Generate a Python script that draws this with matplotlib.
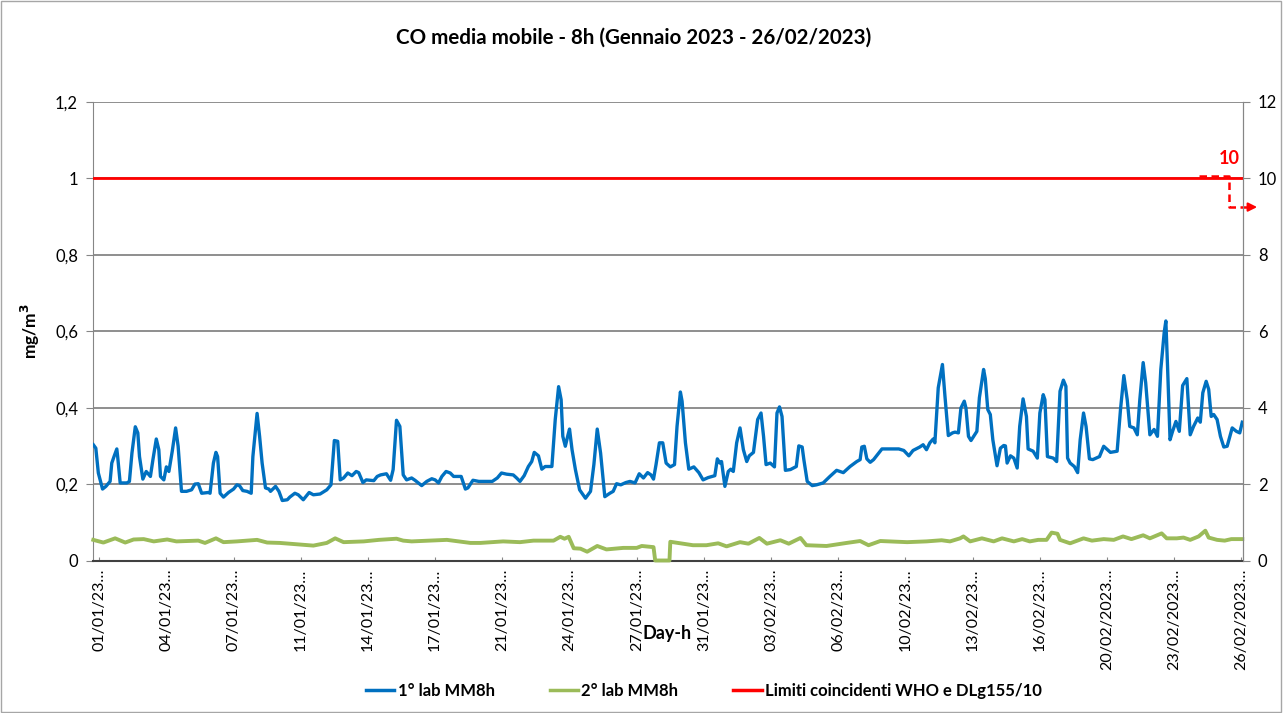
import matplotlib.pyplot as plt
from matplotlib.lines import Line2D
from matplotlib.patches import Rectangle

plt.rcParams['font.family'] = ['Lato', 'DejaVu Sans']

# ore dall'inizio (01/01 00h) e valori mg/m3
blue_h = [-7, -4, -1, 4, 8, 13, 15, 18, 21, 22, 25, 33, 36, 39, 43, 46, 48, 52, 56, 61,
          64, 68, 71, 73, 77, 80, 83, 87, 91, 94, 98, 104, 110, 114, 118, 122, 130, 132, 136, 139,
          141, 144, 148, 154, 160, 164, 167, 171, 176, 181, 183, 188, 191, 194, 198, 202, 204, 210, 214, 218,
          224, 227, 233, 237, 243, 250, 255, 263, 271, 276, 280, 284, 287, 291, 296, 301, 306, 309, 314, 318,
          327, 331, 335, 342, 347, 350, 354, 358, 362, 366, 372, 376, 384, 390, 396, 400, 404, 408, 413, 418,
          422, 431, 436, 439, 445, 452, 468, 474, 479, 485, 493, 497, 501, 506, 511, 515, 518, 523, 527, 531,
          539, 543, 547, 550, 552, 555, 558, 560, 563, 567, 572, 579, 585, 589, 593, 597, 602, 608, 612, 616,
          621, 627, 632, 638, 643, 648, 653, 657, 660, 663, 667, 671, 675, 680, 685, 688, 692, 694, 698, 702,
          708, 714, 719, 725, 733, 736, 739, 741, 745, 749, 752, 755, 759, 763, 767, 771, 774, 779, 784, 788,
          791, 794, 799, 804, 807, 810, 813, 817, 823, 830, 833, 837, 839, 843, 849, 854, 862, 870, 878, 886,
          894, 902, 906, 908, 911, 914, 918, 922, 928, 932, 942, 952, 958, 964, 969, 977, 981, 985, 989, 993,
          995, 999, 1004, 1007, 1011, 1016, 1019, 1023, 1026, 1030, 1032, 1035, 1038, 1045, 1048, 1053, 1055, 1058, 1061, 1064,
          1069, 1073, 1077, 1079, 1081, 1085, 1089, 1093, 1096, 1100, 1104, 1106, 1112, 1117, 1120, 1124, 1126, 1129, 1136, 1140,
          1144, 1148, 1151, 1153, 1156, 1161, 1165, 1168, 1172, 1175, 1179, 1183, 1187, 1191, 1196, 1204, 1212, 1216, 1220, 1224,
          1227, 1232, 1236, 1239, 1243, 1246, 1251, 1256, 1260, 1264, 1268, 1270, 1272, 1275, 1278, 1282, 1286, 1290, 1295, 1299,
          1303, 1308, 1311, 1314, 1318, 1321, 1324, 1327, 1331, 1335, 1339, 1343, 1349, 1354, 1358, 1361]
blue_v = [0.303, 0.294, 0.229, 0.187, 0.194, 0.207, 0.255, 0.274, 0.292, 0.272, 0.203, 0.203, 0.207, 0.281, 0.35, 0.334, 0.272, 0.213, 0.233, 0.22,
          0.264, 0.318, 0.29, 0.22, 0.211, 0.245, 0.233, 0.286, 0.347, 0.299, 0.181, 0.181, 0.185, 0.2, 0.201, 0.176, 0.178, 0.176, 0.255, 0.283,
          0.272, 0.176, 0.166, 0.178, 0.187, 0.198, 0.196, 0.183, 0.181, 0.176, 0.272, 0.385, 0.325, 0.255, 0.19, 0.187, 0.181, 0.194, 0.181, 0.157,
          0.159, 0.166, 0.176, 0.172, 0.159, 0.178, 0.172, 0.174, 0.185, 0.198, 0.314, 0.312, 0.211, 0.216, 0.229, 0.222, 0.233, 0.23, 0.204, 0.211,
          0.209, 0.22, 0.224, 0.227, 0.21, 0.238, 0.367, 0.351, 0.224, 0.211, 0.216, 0.21, 0.196, 0.207, 0.214, 0.211, 0.203, 0.22, 0.233, 0.229,
          0.22, 0.22, 0.187, 0.19, 0.21, 0.207, 0.207, 0.216, 0.229, 0.226, 0.224, 0.216, 0.207, 0.222, 0.246, 0.259, 0.283, 0.274, 0.239, 0.246,
          0.246, 0.369, 0.455, 0.421, 0.325, 0.299, 0.327, 0.344, 0.29, 0.238, 0.185, 0.163, 0.181, 0.251, 0.344, 0.281, 0.167, 0.176, 0.181, 0.201,
          0.198, 0.204, 0.207, 0.203, 0.227, 0.216, 0.23, 0.224, 0.213, 0.251, 0.308, 0.308, 0.255, 0.245, 0.251, 0.351, 0.441, 0.417, 0.308, 0.239,
          0.245, 0.23, 0.211, 0.217, 0.222, 0.266, 0.255, 0.259, 0.194, 0.233, 0.239, 0.233, 0.308, 0.347, 0.29, 0.259, 0.274, 0.283, 0.369, 0.386,
          0.325, 0.251, 0.255, 0.245, 0.386, 0.402, 0.377, 0.236, 0.238, 0.246, 0.3, 0.297, 0.264, 0.207, 0.196, 0.198, 0.203, 0.22, 0.236, 0.23,
          0.246, 0.259, 0.264, 0.297, 0.299, 0.266, 0.257, 0.264, 0.281, 0.292, 0.292, 0.292, 0.288, 0.274, 0.288, 0.297, 0.303, 0.29, 0.308, 0.318,
          0.308, 0.452, 0.513, 0.43, 0.327, 0.334, 0.336, 0.334, 0.399, 0.417, 0.399, 0.325, 0.314, 0.338, 0.426, 0.5, 0.476, 0.395, 0.382, 0.316,
          0.248, 0.294, 0.301, 0.3, 0.255, 0.274, 0.268, 0.242, 0.351, 0.423, 0.377, 0.292, 0.286, 0.268, 0.386, 0.434, 0.421, 0.272, 0.268, 0.259,
          0.443, 0.472, 0.456, 0.268, 0.255, 0.246, 0.23, 0.316, 0.386, 0.351, 0.266, 0.264, 0.268, 0.272, 0.299, 0.283, 0.286, 0.395, 0.484, 0.421,
          0.351, 0.347, 0.329, 0.421, 0.518, 0.465, 0.329, 0.343, 0.325, 0.5, 0.596, 0.627, 0.509, 0.316, 0.338, 0.364, 0.338, 0.458, 0.476, 0.329,
          0.351, 0.373, 0.362, 0.439, 0.469, 0.448, 0.377, 0.382, 0.369, 0.325, 0.297, 0.299, 0.347, 0.338, 0.334, 0.362]

green_h = [-7, 5, 19, 31, 41, 53, 65, 81, 92, 118, 126, 139, 148, 164, 188, 200, 215, 255, 271, 281,
           291, 315, 333, 354, 362, 372, 414, 442, 454, 481, 501, 517, 541, 549, 554, 559, 565, 573, 581, 593,
           604, 624, 640, 646, 660, 662, 679, 680, 707, 723, 737, 747, 763, 773, 786, 795, 811, 821, 835, 842,
           866, 890, 906, 916, 930, 962, 985, 1003, 1013, 1025, 1029, 1037, 1051, 1065, 1075, 1089, 1099, 1108, 1118, 1128,
           1134, 1141, 1144, 1156, 1172, 1182, 1196, 1208, 1219, 1229, 1243, 1251, 1265, 1271, 1283, 1291, 1299, 1309, 1317, 1321,
           1331, 1340, 1348, 1361]
green_v = [0.054, 0.047, 0.058, 0.047, 0.055, 0.056, 0.05, 0.055, 0.05, 0.052, 0.046, 0.058, 0.048, 0.05, 0.054, 0.047, 0.046, 0.039, 0.046, 0.058,
           0.048, 0.05, 0.054, 0.057, 0.052, 0.05, 0.054, 0.046, 0.046, 0.05, 0.048, 0.052, 0.052, 0.062, 0.057, 0.062, 0.032, 0.031, 0.023, 0.038,
           0.029, 0.033, 0.033, 0.038, 0.035, 0.0, 0.0, 0.049, 0.04, 0.04, 0.045, 0.037, 0.048, 0.044, 0.059, 0.044, 0.053, 0.044, 0.059, 0.04,
           0.038, 0.046, 0.051, 0.04, 0.051, 0.048, 0.05, 0.053, 0.05, 0.058, 0.063, 0.05, 0.058, 0.05, 0.058, 0.05, 0.056, 0.05, 0.054, 0.054,
           0.073, 0.07, 0.054, 0.045, 0.058, 0.052, 0.056, 0.054, 0.063, 0.056, 0.066, 0.058, 0.071, 0.058, 0.058, 0.06, 0.054, 0.063, 0.078, 0.06,
           0.054, 0.052, 0.056, 0.056]

limit = 1.0
x_ticks = list(range(0, 1361, 80))
x_labels = ['01/01/23…', '04/01/23…', '07/01/23…', '11/01/23…', '14/01/23…', '17/01/23…',
            '21/01/23…', '24/01/23…', '27/01/23…', '31/01/23…', '03/02/23…', '06/02/23…',
            '10/02/23…', '13/02/23…', '16/02/23…', '20/02/2023…', '23/02/2023…', '26/02/2023…']
y_ticks = [0, 0.2, 0.4, 0.6, 0.8, 1.0, 1.2]
y_labels = ['0', '0,2', '0,4', '0,6', '0,8', '1', '1,2']

blue = '#0070C0'
green = '#9BBB59'
red = '#FF0000'
grid_c = '#868686'

W, H = 1287, 713
fig = plt.figure(figsize=(W / 100, H / 100), dpi=100)
ax = fig.add_axes([93.3 / W, 1 - 560.5 / H, (1242.7 - 93.3) / W, (560.5 - 102) / H])

ax.plot(blue_h, blue_v, color=blue, lw=2.4, solid_joinstyle='round', zorder=3)
ax.plot(green_h, green_v, color=green, lw=2.8, solid_joinstyle='round', zorder=3, clip_on=False)
ax.axhline(limit, color=red, lw=2, zorder=4)

ax.set_xlim(-7, 1361.5)
ax.set_ylim(0, 1.2)
ax.set_yticks(y_ticks)
ax.set_yticklabels(y_labels)
ax.set_xticks(x_ticks)
ax.set_xticklabels(x_labels, rotation=90, fontsize=11.5)
ax.yaxis.grid(True, color=grid_c, lw=1.3, zorder=0)
ax.set_axisbelow(True)
ax.tick_params(axis='y', direction='out', length=5, color=grid_c, labelsize=12, pad=6)
ax.tick_params(axis='x', direction='in', length=3, color='#888888', pad=6)
ax.spines['top'].set_visible(False)
ax.spines['left'].set_color(grid_c)
ax.spines['right'].set_color(grid_c)
ax.spines['bottom'].set_color('#404040')
ax.spines['bottom'].set_linewidth(1.5)

ax2 = ax.twinx()
ax2.set_ylim(0, 12)
ax2.set_yticks(range(0, 13, 2))
ax2.tick_params(axis='y', direction='out', length=5, color=grid_c, labelsize=12, pad=6)
for s in ['top', 'left', 'bottom']:
    ax2.spines[s].set_visible(False)
ax2.spines['right'].set_color(grid_c)

# richiamo rosso del limite (10) verso l'asse destro
ax.plot([1310, 1345, 1345, 1370], [1.006, 1.006, 0.925, 0.925], color=red, lw=1.8,
        ls=(0, (3, 1.8)), clip_on=False, zorder=5)
ax.annotate('', xy=(1382, 0.925), xytext=(1368, 0.925),
            arrowprops=dict(arrowstyle='-|>', color=red, lw=1.5, mutation_scale=13),
            annotation_clip=False)
ax.text(1346, 1.03, '10', color=red, fontsize=13, fontweight='bold', ha='center', va='bottom')

fig.text(0.492, 1 - 38 / H, 'CO media mobile - 8h (Gennaio 2023 - 26/02/2023)',
         ha='center', va='center', fontsize=14.8, fontweight='bold')
fig.text(30 / W, 1 - 331 / H, 'mg/m$^\\mathbf{3}$', rotation=90, ha='center', va='center',
         fontsize=12.5, fontweight='bold')
fig.text(667 / W, 1 - 633 / H, 'Day-h', ha='center', va='center', fontsize=13, fontweight='bold')

handles = [Line2D([], [], color=blue, lw=2.5),
           Line2D([], [], color=green, lw=2.5),
           Line2D([], [], color=red, lw=2.5)]
fig.legend(handles, ['1° lab MM8h', '2° lab MM8h', 'Limiti coincidenti WHO e DLg155/10'],
           loc='center', bbox_to_anchor=(704 / W, 1 - 691 / H), ncol=3, frameon=False,
           prop={'weight': 'bold', 'size': 12}, handlelength=1.7, handletextpad=0.2,
           columnspacing=3.3)

fig.patches.append(Rectangle((1 / W, 1 / H), 1280 / W, 711 / H, transform=fig.transFigure,
                             fill=False, edgecolor='#A6A6A6', lw=1))

fig.savefig('out.png', dpi=100)
